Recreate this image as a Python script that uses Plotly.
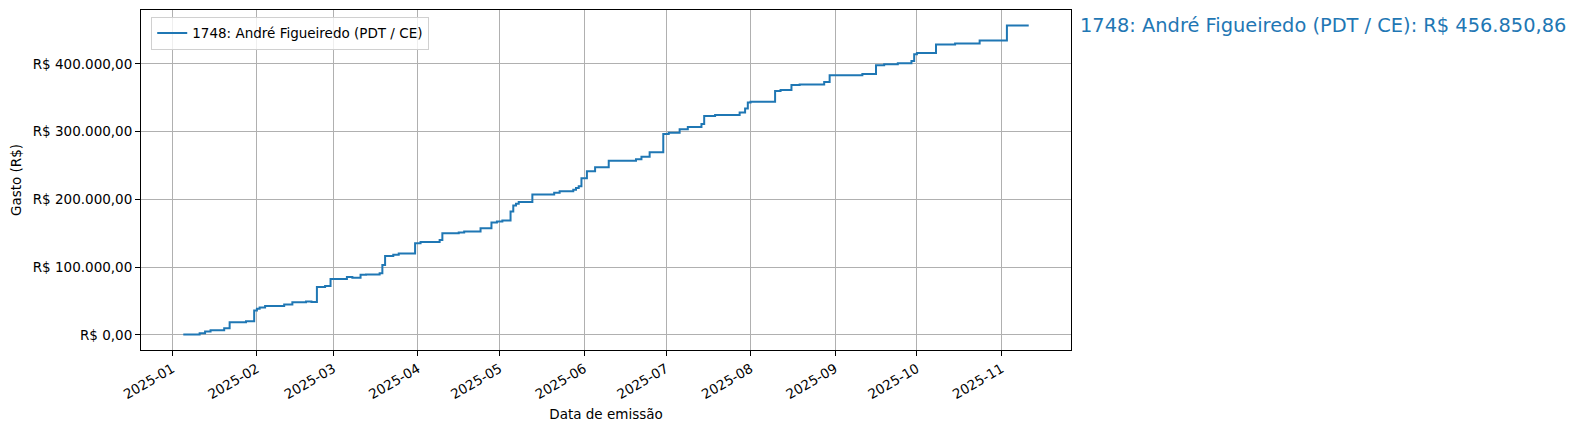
import plotly.graph_objects as go
import pandas as pd

# datas de emissão e gasto acumulado
datas = [
    "2025-01-05", "2025-01-11", "2025-01-13", "2025-01-15", "2025-01-20", "2025-01-22",
    "2025-01-28", "2025-01-31", "2025-02-01", "2025-02-02", "2025-02-04", "2025-02-11",
    "2025-02-14", "2025-02-19", "2025-02-21", "2025-02-23", "2025-02-26", "2025-02-28",
    "2025-03-06", "2025-03-08", "2025-03-11", "2025-03-13", "2025-03-18", "2025-03-19",
    "2025-03-20", "2025-03-23", "2025-03-25", "2025-03-31", "2025-04-02", "2025-04-09",
    "2025-04-10", "2025-04-16", "2025-04-18", "2025-04-24", "2025-04-28", "2025-04-30",
    "2025-05-02", "2025-05-05", "2025-05-06", "2025-05-07", "2025-05-08", "2025-05-13",
    "2025-05-21", "2025-05-23", "2025-05-28", "2025-05-29", "2025-05-30", "2025-05-31",
    "2025-06-02", "2025-06-05", "2025-06-10", "2025-06-20", "2025-06-22", "2025-06-25",
    "2025-06-30", "2025-07-02", "2025-07-06", "2025-07-09", "2025-07-14", "2025-07-15",
    "2025-07-19", "2025-07-28", "2025-07-30", "2025-07-31", "2025-08-01", "2025-08-10",
    "2025-08-12", "2025-08-16", "2025-08-19", "2025-08-28", "2025-08-30", "2025-09-11",
    "2025-09-16", "2025-09-19", "2025-09-24", "2025-09-29", "2025-09-30", "2025-10-01",
    "2025-10-08", "2025-10-15", "2025-10-24", "2025-11-03", "2025-11-11",
]
gasto_acumulado = [
    500, 2400, 4900, 6800, 9800, 18700,
    20200, 36000, 38600, 40600, 42500, 45000,
    48000, 49200, 48600, 70700, 72200, 82600,
    85600, 84500, 88600, 89300, 91000, 103000,
    116300, 118300, 120300, 135200, 137100, 140100,
    149900, 151000, 152500, 157500, 165900, 167300,
    168800, 182200, 191100, 193600, 196100, 207400,
    210000, 211900, 214400, 216900, 219300, 231200,
    241600, 247500, 257100, 259400, 263000, 269800,
    296600, 298600, 303600, 307000, 311400, 323300,
    324800, 328400, 334300, 343200, 344100, 360000,
    361500, 368800, 369800, 373200, 383500, 385000,
    398000, 399400, 400900, 404300, 414200, 416200,
    428800, 430200, 434500, 456850.86, 456850.86,
]
rotulo = "1748: André Figueiredo (PDT / CE)"
total = 456850.86
y_ticks = [0, 100000, 200000, 300000, 400000]
x_ticks = pd.date_range("2025-01-01", "2025-11-01", freq="MS")


def brl(v):
    s = f"{v:,.2f}".replace(",", "X").replace(".", ",").replace("X", ".")
    return "R$ " + s


df = pd.DataFrame({"data": pd.to_datetime(datas), "gasto": gasto_acumulado})

# margens de 5% como no matplotlib
x0, x1 = df["data"].min(), df["data"].max()
dx = (x1 - x0) * 0.05
y0, y1 = df["gasto"].min(), df["gasto"].max()
dy = (y1 - y0) * 0.05

fig = go.Figure()
fig.add_trace(go.Scatter(
    x=df["data"], y=df["gasto"], mode="lines", line_shape="hv",
    line=dict(color="#1f77b4", width=2), name=rotulo, showlegend=True,
))

fig.add_annotation(
    x=1.008, xref="paper", y=total, yref="y", xanchor="left", yanchor="middle",
    text=f"{rotulo}: {brl(total)}", showarrow=False,
    font=dict(size=19.4, color="#1f77b4"),
)

eixo = dict(
    showline=True, linecolor="black", linewidth=1, mirror=True,
    showgrid=True, gridcolor="#b0b0b0", gridwidth=1, automargin=False,
    ticks="outside", ticklen=5, tickcolor="black", zeroline=False,
    tickfont=dict(size=13.5, color="black"),
)

# a página tem 8px de margem no body, por isso l/t menores
fig.update_layout(
    width=1578, height=430,
    margin=dict(l=133, r=515, t=2, b=88),
    paper_bgcolor="white", plot_bgcolor="white",
    font=dict(family="DejaVu Sans", size=13.5, color="black"),
    xaxis=dict(
        eixo, range=[x0 - dx, x1 + dx], tickvals=x_ticks,
        tickformat="%Y-%m", tickangle=-30,
        title=dict(text="Data de emissão", font=dict(size=13.5), standoff=8),
    ),
    yaxis=dict(
        eixo, range=[y0 - dy, y1 + dy], tickvals=y_ticks,
        ticktext=[brl(v) for v in y_ticks],
        title=dict(text="Gasto (R$)", font=dict(size=13.5), standoff=10),
    ),
    legend=dict(
        x=0.011, y=0.98, xanchor="left", yanchor="top",
        bgcolor="rgba(255,255,255,0.8)", bordercolor="#d0d0d0", borderwidth=1,
        font=dict(size=13.5),
    ),
)

fig.write_html("out.html")
